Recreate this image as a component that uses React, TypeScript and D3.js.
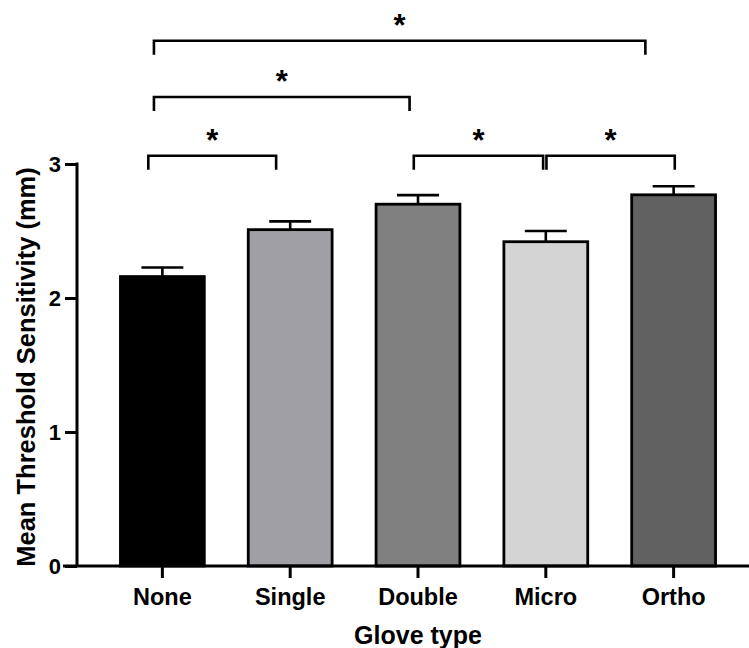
import React, { useRef, useEffect } from 'react';
import * as d3 from 'd3';

// glove type groups and their mean threshold (mm) with SEM
const categories = ['None', 'Single', 'Double', 'Micro', 'Ortho'];
const means = [2.16, 2.51, 2.70, 2.42, 2.77];
const sems = [0.068, 0.062, 0.068, 0.08, 0.064];
const fills = ['#000000', '#a09fa5', '#808080', '#d4d4d4', '#616161'];
const yTicks = [0, 1, 2, 3];

// significance brackets, x in category index units, level in data units
const bracketFrom = [-0.11, -0.066, -0.066, 1.967, 3.005];
const bracketTo = [0.89, 1.934, 3.779, 2.979, 4.009];
const bracketLevel = [3.062, 3.5, 3.92, 3.062, 3.062];
const bracketLabel = ['*', '*', '*', '*', '*'];

const App = () => {
  const ref = useRef<SVGSVGElement>(null);

  useEffect(() => {
    const width = 749;
    const height = 648;
    const font = 'Arial, "Liberation Sans", sans-serif';

    const svg = d3.select(ref.current);
    svg.selectAll('*').remove();
    svg.attr('width', width).attr('height', height);

    const x = d3
      .scaleBand()
      .domain(categories)
      .range([77, 759])
      .paddingInner(0.344)
      .paddingOuter(0.34);
    const bw = x.bandwidth();
    const y = d3.scaleLinear().domain([0, 3]).range([566, 164]);
    const xi = d3
      .scaleLinear()
      .domain([0, categories.length - 1])
      .range([x(categories[0])! + bw / 2, x(categories[categories.length - 1])! + bw / 2]);

    // error bars (upper only)
    const err = svg.append('g').attr('stroke', '#000').attr('stroke-width', 2.6);
    categories.forEach((c, i) => {
      const cx = x(c)! + bw / 2;
      err.append('line')
        .attr('x1', cx).attr('x2', cx)
        .attr('y1', y(means[i])).attr('y2', y(means[i] + sems[i]));
      err.append('line')
        .attr('x1', cx - bw * 0.25).attr('x2', cx + bw * 0.25)
        .attr('y1', y(means[i] + sems[i])).attr('y2', y(means[i] + sems[i]));
    });

    // bars
    svg.append('g')
      .selectAll('rect')
      .data(categories)
      .enter()
      .append('rect')
      .attr('x', (d) => x(d)!)
      .attr('y', (d, i) => y(means[i]))
      .attr('width', bw)
      .attr('height', (d, i) => y(0) - y(means[i]))
      .attr('fill', (d, i) => fills[i])
      .attr('stroke', '#000')
      .attr('stroke-width', 2.8);

    // y axis
    const yAxis = svg.append('g').attr('transform', `translate(${x.range()[0]},0)`);
    yAxis.call(d3.axisLeft(y).tickValues(yTicks).tickFormat(d3.format('d')).tickSize(12).tickPadding(4));
    yAxis.select('.domain').remove();
    yAxis.append('line')
      .attr('x1', 0).attr('x2', 0)
      .attr('y1', y(3) - 1.5).attr('y2', y(0))
      .attr('stroke', '#000').attr('stroke-width', 3);
    yAxis.selectAll('.tick line').attr('stroke-width', 3);
    yAxis.selectAll('.tick text')
      .attr('font-family', font)
      .attr('font-weight', 'bold')
      .attr('font-size', 22)
      .attr('fill', '#000');

    // x axis
    const xAxis = svg.append('g').attr('transform', `translate(0,${y(0)})`);
    xAxis.call(d3.axisBottom(x).tickSize(12).tickPadding(10));
    xAxis.select('.domain').remove();
    xAxis.append('line')
      .attr('x1', 63).attr('x2', width)
      .attr('y1', 0).attr('y2', 0)
      .attr('stroke', '#000').attr('stroke-width', 3);
    xAxis.selectAll('.tick line').attr('stroke-width', 3);
    xAxis.selectAll('.tick text')
      .attr('font-family', font)
      .attr('font-weight', 'bold')
      .attr('font-size', 23.5)
      .attr('fill', '#000');

    // axis titles
    svg.append('text')
      .attr('x', (x.range()[0] + x.range()[1]) / 2)
      .attr('y', 644)
      .attr('text-anchor', 'middle')
      .attr('font-family', font)
      .attr('font-weight', 'bold')
      .attr('font-size', 25)
      .text('Glove type');

    svg.append('text')
      .attr('transform', `translate(35,${(y(0) + y(3)) / 2 + 2}) rotate(-90)`)
      .attr('text-anchor', 'middle')
      .attr('font-family', font)
      .attr('font-weight', 'bold')
      .attr('font-size', 25.5)
      .text('Mean Threshold Sensitivity (mm)');

    // significance brackets
    const br = svg.append('g');
    bracketFrom.forEach((f, i) => {
      const x1 = xi(f);
      const x2 = xi(bracketTo[i]);
      const yl = y(bracketLevel[i]);
      const yd = yl + 14;
      br.append('path')
        .attr('d', `M${x1},${yd}V${yl}H${x2}V${yd}`)
        .attr('fill', 'none')
        .attr('stroke', '#000')
        .attr('stroke-width', 2.6);
      br.append('text')
        .attr('x', (x1 + x2) / 2)
        .attr('y', yl - 5)
        .attr('text-anchor', 'middle')
        .attr('font-family', font)
        .attr('font-weight', 'bold')
        .attr('font-size', 31)
        .text(bracketLabel[i]);
    });
  }, []);

  return (
    <svg ref={ref} style={{ position: 'absolute', left: 0, top: 0 }}></svg>
  );
};

export default App;
